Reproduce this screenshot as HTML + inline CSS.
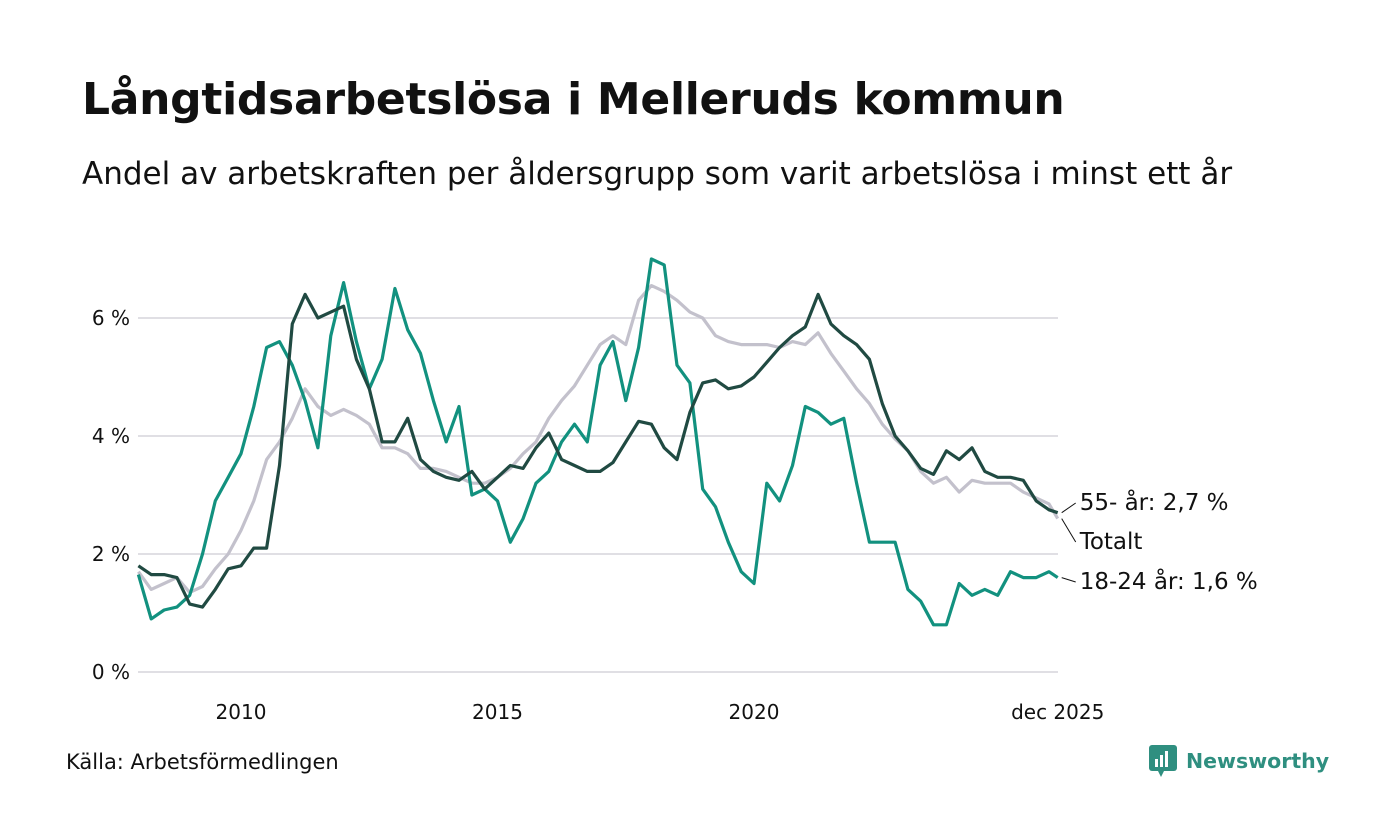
<!DOCTYPE html>
<html><head><meta charset="utf-8"><style>
body{margin:0;background:#fff;font-family:"DejaVu Sans",sans-serif;}
#wrap{position:relative;width:1400px;height:840px;overflow:hidden;}
</style></head><body>
<div id="wrap">
<div style="position:absolute;left:82px;top:74px;font-size:44px;font-weight:bold;color:#111;letter-spacing:-0.3px;">Långtidsarbetslösa i Melleruds kommun</div>
<div style="position:absolute;left:82px;top:156px;font-size:31px;color:#111;">Andel av arbetskraften per åldersgrupp som varit arbetslösa i minst ett år</div>
<svg id="chart" width="1400" height="840" style="position:absolute;left:0;top:0"></svg>
<div style="position:absolute;left:66px;top:750px;font-size:21px;color:#111;">Källa: Arbetsförmedlingen</div>
<div style="position:absolute;left:1148px;top:744px;display:flex;align-items:center;">
<svg width="30" height="34"><rect x="1" y="1" width="28" height="26" rx="3" fill="#2f8f80"/><polygon points="10,27 16,27 13,33" fill="#2f8f80"/><rect x="7" y="15" width="3" height="8" fill="#fff"/><rect x="12" y="11" width="3" height="12" fill="#fff"/><rect x="17" y="7" width="3" height="16" fill="#fff"/></svg>
<span style="font-size:20.5px;font-weight:bold;color:#2f8f80;margin-left:8px;">Newsworthy</span></div>
</div>
<script>
const yTicks=[0,2,4,6];
const yTickLabels=["0 %","2 %","4 %","6 %"];
const xTicks=[2010,2015,2020,2025.92];
const xTickLabels=["2010","2015","2020","dec 2025"];
const startYear=2008;
const older=[1.8,1.65,1.65,1.6,1.15,1.1,1.4,1.75,1.8,2.1,2.1,3.5,5.9,6.4,6.0,6.1,6.2,5.3,4.8,3.9,3.9,4.3,3.6,3.4,3.3,3.25,3.4,3.1,3.3,3.5,3.45,3.8,4.05,3.6,3.5,3.4,3.4,3.55,3.9,4.25,4.2,3.8,3.6,4.4,4.9,4.95,4.8,4.85,5.0,5.25,5.5,5.7,5.85,6.4,5.9,5.7,5.55,5.3,4.55,4.0,3.75,3.45,3.35,3.75,3.6,3.8,3.4,3.3,3.3,3.25,2.9,2.75,2.7];
const total=[1.7,1.4,1.5,1.6,1.35,1.45,1.75,2.0,2.4,2.9,3.6,3.9,4.3,4.8,4.5,4.35,4.45,4.35,4.2,3.8,3.8,3.7,3.45,3.45,3.4,3.3,3.2,3.2,3.3,3.45,3.7,3.9,4.3,4.6,4.85,5.2,5.55,5.7,5.55,6.3,6.55,6.45,6.3,6.1,6.0,5.7,5.6,5.55,5.55,5.55,5.5,5.6,5.55,5.75,5.4,5.1,4.8,4.55,4.2,3.95,3.75,3.4,3.2,3.3,3.05,3.25,3.2,3.2,3.2,3.05,2.95,2.85,2.6];
const young=[1.65,0.9,1.05,1.1,1.3,2.0,2.9,3.3,3.7,4.5,5.5,5.6,5.2,4.6,3.8,5.7,6.6,5.6,4.8,5.3,6.5,5.8,5.4,4.6,3.9,4.5,3.0,3.1,2.9,2.2,2.6,3.2,3.4,3.9,4.2,3.9,5.2,5.6,4.6,5.5,7.0,6.9,5.2,4.9,3.1,2.8,2.2,1.7,1.5,3.2,2.9,3.5,4.5,4.4,4.2,4.3,3.2,2.2,2.2,2.2,1.4,1.2,0.8,0.8,1.5,1.3,1.4,1.3,1.7,1.6,1.6,1.7,1.6];
const NS="http://www.w3.org/2000/svg";
const svg=document.getElementById('chart');
const x=t=>241+(t-2010)*51.3;
const y=v=>672-v*59;
const tOf=(i,n)=>i===n-1?2025.92:startYear+i*0.25;
const FF='DejaVu Sans, sans-serif';
function mk(tag,attrs){const e=document.createElementNS(NS,tag);for(const k in attrs)e.setAttribute(k,attrs[k]);svg.appendChild(e);return e;}
yTicks.forEach((v,i)=>{
 const g=mk('line',{x1:138,x2:1058,y1:y(v),y2:y(v),stroke:'#e0dfe4','stroke-width':2});
 
 
 const t=mk('text',{x:130,y:y(v)+7,'text-anchor':'end','font-size':20,fill:'#111','font-family':FF});
 t.textContent=yTickLabels[i];
 
 
});
xTicks.forEach((v,i)=>{
 const t=mk('text',{x:x(v),y:719,'text-anchor':'middle','font-size':20,fill:'#111','font-family':FF});
 t.textContent=xTickLabels[i];
 
 
});
function line(arr,color,name){
 const d=arr.map((v,i)=>(i?'L':'M')+x(tOf(i,arr.length)).toFixed(1)+','+y(v).toFixed(1)).join('');
 const p=mk('path',{d:d,fill:'none',stroke:color,'stroke-width':3.2,'stroke-linejoin':'round'});
 
 
}
line(total,'#c3c1cc','line-totalt');
line(young,'#12917f','line-18-24');
line(older,'#204a42','line-55-plus');
const ex=x(2025.92);
function label(txt,ly,vy,name){
 const l=mk('line',{x1:ex+4,y1:y(vy),x2:ex+18,y2:ly-7,stroke:'#111','stroke-width':1});
 
 
 const t=mk('text',{x:ex+22,y:ly,'font-size':23,fill:'#111','font-family':FF});
 t.textContent=txt;
 
 
}
label('55- år: 2,7 %',510,older[older.length-1],'label-55-plus');
label('Totalt',549,total[total.length-1],'label-totalt');
label('18-24 år: 1,6 %',589,young[young.length-1],'label-18-24');
</script>
</body></html>
